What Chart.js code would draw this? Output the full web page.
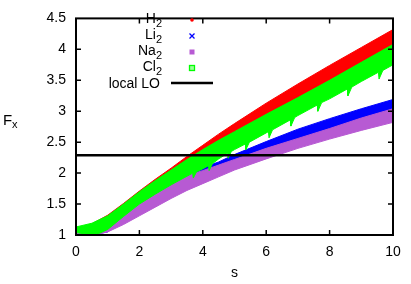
<!DOCTYPE html>
<html>
<head>
  <title>Fx vs s</title>
  <script src="https://cdn.jsdelivr.net/npm/chart.js"></script>
  <style>
    body { margin: 0; background: #fff; }
    #wrap { width: 411px; height: 284px; }
  </style>
</head>
<body>
  <div id="wrap"><canvas id="fxChart"></canvas></div>
  <script>
  // values (upper / lower edge of each band)
  const sGrid = [0, 0.5, 1, 1.5, 2, 2.5, 3, 3.5, 4, 4.5, 5, 6, 7, 8, 9, 10];

  const h2Upper = [1.10, 1.18, 1.32, 1.51, 1.71, 1.90, 2.08, 2.27, 2.45, 2.63, 2.80, 3.13, 3.44, 3.74, 4.03, 4.32];
  const h2Lower = [1.06, 1.06, 1.12, 1.32, 1.52, 1.70, 1.86, 2.02, 2.17, 2.32, 2.46, 2.74, 3.01, 3.28, 3.55, 3.82];

  const li2Upper = [1.02, 1.02, 1.08, 1.28, 1.48, 1.64, 1.79, 1.93, 2.09, 2.18, 2.30, 2.51, 2.71, 2.88, 3.04, 3.19];
  const li2Lower = [1.00, 1.00, 1.05, 1.25, 1.45, 1.61, 1.76, 1.90, 1.98, 2.06, 2.14, 2.32, 2.48, 2.64, 2.80, 2.97];

  const na2Upper = [1.03, 1.03, 1.11, 1.32, 1.52, 1.68, 1.83, 1.96, 2.04, 2.13, 2.22, 2.40, 2.56, 2.72, 2.89, 3.04];
  const na2Lower = [0.97, 0.99, 1.05, 1.17, 1.31, 1.45, 1.59, 1.72, 1.83, 1.94, 2.05, 2.23, 2.40, 2.55, 2.69, 2.82];

  const cl2Upper = [1.13, 1.19, 1.31, 1.50, 1.70, 1.88, 2.05, 2.22, 2.38, 2.53, 2.67, 2.95, 3.22, 3.50, 3.79, 4.08];
  // lower edge of Cl2 has little notches
  const cl2LowS = [0, 0.25, 0.5, 0.75, 1, 1.5, 2, 2.5, 3, 3.5, 3.68, 3.7, 3.8, 4, 4.18, 4.2, 4.3, 4.5,
                   4.78, 4.8, 4.9, 5, 5.34, 5.36, 5.47, 6, 6.07, 6.09, 6.2, 6.76, 6.78, 6.9, 7,
                   7.61, 7.63, 7.75, 8, 8.56, 8.58, 8.7, 9, 9.54, 9.56, 9.68, 10];
  const cl2LowF = [1.04, 1.02, 1.01, 1.03, 1.09, 1.30, 1.50, 1.66, 1.81, 1.95, 2.00, 1.92, 2.02, 2.07, 2.12, 2.04, 2.15, 2.23,
                   2.32, 2.24, 2.35, 2.38, 2.47, 2.38, 2.50, 2.65, 2.67, 2.57, 2.70, 2.86, 2.76, 2.90, 2.93,
                   3.10, 3.00, 3.14, 3.20, 3.36, 3.25, 3.39, 3.48, 3.63, 3.52, 3.66, 3.75];

  const loS = [0, 10];
  const loValue = 2.29;

  const xTicks = [0, 2, 4, 6, 8, 10];
  const yTicks = [1, 1.5, 2, 2.5, 3, 3.5, 4, 4.5];

  const seriesNames = ['H_2', 'Li_2', 'Na_2', 'Cl_2'];
  const loName = 'local LO';
  const colors = ['#ff0000', '#0000ff', '#b75ad3', '#00ff00'];

  const FONT = "'Liberation Sans', Arial, sans-serif";

  function pts(xs, ys) {
    return xs.map((x, i) => ({ x: x, y: ys[i] }));
  }

  function band(name, upS, upF, lowS, lowF, color, order) {
    return [
      { label: name, data: pts(upS, upF), borderColor: color, backgroundColor: color,
        borderWidth: 1, pointRadius: 0, fill: '+1', order: order, clip: 0 },
      { label: name + ' (low)', data: pts(lowS, lowF), borderColor: color, backgroundColor: color,
        borderWidth: 1, pointRadius: 0, fill: false, order: order, clip: 0 }
    ];
  }

  const datasets = [
    ...band(seriesNames[0], sGrid, h2Upper, sGrid, h2Lower, colors[0], 4),
    ...band(seriesNames[1], sGrid, li2Upper, sGrid, li2Lower, colors[1], 3),
    ...band(seriesNames[2], sGrid, na2Upper, sGrid, na2Lower, colors[2], 2),
    ...band(seriesNames[3], sGrid, cl2Upper, cl2LowS, cl2LowF, colors[3], 1),
    { label: loName, data: pts(loS, loS.map(() => loValue)), borderColor: '#000',
      borderWidth: 2.5, pointRadius: 0, fill: false, order: 0, clip: 0 }
  ];

  // frame, inward ticks, gnuplot-like key and the F_x label
  const decorations = {
    id: 'decorations',
    afterDatasetsDraw(chart) {
      const ctx = chart.ctx;
      const a = chart.chartArea;
      const xs = chart.scales.x, ys = chart.scales.y;
      ctx.save();
      ctx.strokeStyle = '#000';
      ctx.lineWidth = 1.5;
      ctx.beginPath();
      xTicks.slice(1, -1).forEach(v => {
        const px = xs.getPixelForValue(v);
        ctx.moveTo(px, a.bottom); ctx.lineTo(px, a.bottom - 5);
        ctx.moveTo(px, a.top); ctx.lineTo(px, a.top + 5);
      });
      yTicks.slice(1, -1).forEach(v => {
        const py = ys.getPixelForValue(v);
        ctx.moveTo(a.left, py); ctx.lineTo(a.left + 5, py);
        ctx.moveTo(a.right, py); ctx.lineTo(a.right - 5, py);
      });
      ctx.stroke();
      ctx.lineWidth = 2;
      ctx.strokeRect(a.left, a.top, a.right - a.left, a.bottom - a.top);

      // key
      ctx.fillStyle = '#000';
      ctx.textBaseline = 'alphabetic';
      ctx.textAlign = 'left';
      const textRight = 162, symX = 192;
      seriesNames.forEach((name, i) => {
        const rowY = 20 + 16 * i;
        const [base, sub] = name.split('_');
        ctx.font = '14px ' + FONT;
        const bw = ctx.measureText(base).width;
        ctx.font = '11px ' + FONT;
        const sw = ctx.measureText(sub).width;
        ctx.fillStyle = '#000';
        ctx.font = '14px ' + FONT;
        ctx.fillText(base, textRight - sw - bw, rowY + 3);
        ctx.font = '11px ' + FONT;
        ctx.fillText(sub, textRight - sw, rowY + 7);

        ctx.strokeStyle = colors[i];
        ctx.fillStyle = colors[i];
        ctx.lineWidth = 1.3;
        ctx.beginPath();
        if (i === 0) {
          ctx.arc(symX, rowY, 1.8, 0, Math.PI * 2);
          ctx.fill();
        } else if (i === 1) {
          ctx.moveTo(symX - 2.5, rowY - 2.5); ctx.lineTo(symX + 2.5, rowY + 2.5);
          ctx.moveTo(symX + 2.5, rowY - 2.5); ctx.lineTo(symX - 2.5, rowY + 2.5);
          ctx.stroke();
        } else if (i === 2) {
          ctx.fillRect(symX - 2.5, rowY - 2.5, 5, 5);
        } else {
          ctx.fillStyle = '#9f9';
          ctx.fillRect(symX - 2.5, rowY - 2.5, 5, 5);
          ctx.strokeRect(symX - 2.5, rowY - 2.5, 5, 5);
        }
      });
      const loY = 83;
      ctx.fillStyle = '#000';
      ctx.font = '14px ' + FONT;
      ctx.textAlign = 'right';
      ctx.fillText(loName, 160, loY + 5);
      ctx.strokeStyle = '#000';
      ctx.lineWidth = 2.5;
      ctx.beginPath();
      ctx.moveTo(171, loY); ctx.lineTo(213, loY);
      ctx.stroke();

      // y label, written horizontally like the original
      ctx.textAlign = 'left';
      ctx.font = '15px ' + FONT;
      ctx.fillText('F', 3, 125);
      ctx.font = '11px ' + FONT;
      ctx.fillText('x', 12, 128);
      ctx.restore();
    }
  };

  const tickFont = { family: FONT, size: 14 };

  new Chart(document.getElementById('fxChart'), {
    type: 'line',
    data: { datasets: datasets },
    options: {
      responsive: true,
      maintainAspectRatio: false,
      animation: false,
      layout: { padding: { top: 10, right: 18, left: 0, bottom: 0 } },
      plugins: { legend: { display: false }, tooltip: { enabled: false } },
      scales: {
        x: {
          type: 'linear', min: 0, max: 10,
          afterBuildTicks: s => { s.ticks = xTicks.map(v => ({ value: v })); },
          afterFit: s => { s.height = 49; },
          grid: { display: false, drawTicks: false },
          border: { display: false },
          ticks: { font: tickFont, color: '#000', padding: 9, maxRotation: 0,
                   callback: v => String(v) },
          title: { display: true, text: 's', font: { family: FONT, size: 14 }, color: '#000',
                   padding: { top: 0, bottom: 2 } }
        },
        y: {
          type: 'linear', min: 1, max: 4.5,
          afterBuildTicks: s => { s.ticks = yTicks.map(v => ({ value: v })); },
          afterFit: s => { s.width = 76; },
          grid: { display: false, drawTicks: false },
          border: { display: false },
          ticks: { font: tickFont, color: '#000', padding: 10,
                   callback: v => String(v) }
        }
      }
    },
    plugins: [decorations]
  });
  </script>
</body>
</html>
